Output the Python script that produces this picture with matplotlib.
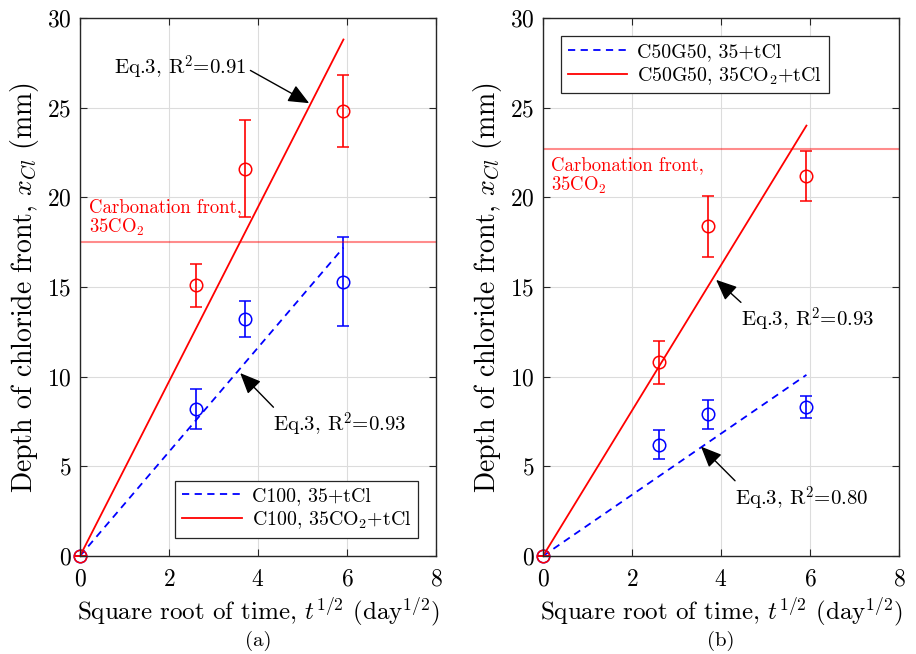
import numpy as np
import matplotlib
matplotlib.use("Agg")
import matplotlib.pyplot as plt

plt.rcParams["font.family"] = "serif"
plt.rcParams["font.serif"] = ["cmr10"]
plt.rcParams["mathtext.fontset"] = "cm"
plt.rcParams["axes.formatter.use_mathtext"] = True

# square root of time (day^1/2)
t_sqrt = [0, 2.6, 3.7, 5.9]
fit_x = [0, 5.92]

# panel (a) C100
a_blue = [0, 8.2, 13.2, 15.3]
a_blue_lo = [0, 1.1, 1.0, 2.5]
a_blue_hi = [0, 1.1, 1.0, 2.5]
a_red = [0, 15.1, 21.6, 24.8]
a_red_lo = [0, 1.2, 2.7, 2.0]
a_red_hi = [0, 1.2, 2.7, 2.0]
a_fit_blue = [0, 17.2]
a_fit_red = [0, 28.8]
a_carb = 17.5

# panel (b) C50G50
b_blue = [0, 6.2, 7.9, 8.3]
b_blue_lo = [0, 0.8, 0.8, 0.6]
b_blue_hi = [0, 0.8, 0.8, 0.6]
b_red = [0, 10.8, 18.4, 21.2]
b_red_lo = [0, 1.2, 1.7, 1.4]
b_red_hi = [0, 1.2, 1.7, 1.4]
b_fit_blue = [0, 10.1]
b_fit_red = [0, 24.0]
b_carb = 22.7

fig = plt.figure(figsize=(9.16, 6.54), dpi=100)
ax1 = fig.add_axes([80/916, 98/654, 356/916, 538/654])
ax2 = fig.add_axes([543/916, 98/654, 356/916, 538/654])


def panel(ax, blue, blo, bhi, red, rlo, rhi, fblue, fred, carb, labels, tag):
    ax.plot(fit_x, fblue, color="b", ls=(0, (4, 3)), lw=1.3, label=labels[0])
    ax.plot(fit_x, fred, color="r", lw=1.3, label=labels[1])
    for y, lo, hi, c in ((blue, blo, bhi, "b"), (red, rlo, rhi, "r")):
        eb = ax.errorbar(t_sqrt, y, yerr=[lo, hi], fmt="o", color=c, mfc="none",
                         ms=9, mew=1.1, capsize=4, elinewidth=1.2, capthick=1.2)
        eb[0].set_clip_on(False)
        for cl in eb[1]:
            cl.set_clip_on(False)
    ax.axhline(carb, color="r", alpha=0.45, lw=1.5)
    ax.set_xlim(0, 8)
    ax.set_ylim(0, 30)
    ax.set_xticks([0, 2, 4, 6, 8])
    ax.set_yticks([0, 5, 10, 15, 20, 25, 30])
    ax.grid(True, color="#dcdcdc", lw=0.8)
    ax.set_axisbelow(True)
    ax.tick_params(direction="in", top=True, right=True, labelsize=17,
                   length=5, color="#262626")
    ax.tick_params(axis="x", pad=9)
    ax.tick_params(axis="y", pad=6)
    for s in ax.spines.values():
        s.set_color("#262626")
        s.set_linewidth(1.0)
    ax.set_xlabel(r"Square root of time, $t^{1/2}$ (day$^{1/2}$)", fontsize=18,
                  labelpad=3)
    ax.set_ylabel(r"Depth of chloride front, $x_{Cl}$ (mm)", fontsize=20,
                  labelpad=4)
    ax.text(0.5, -0.14, tag, transform=ax.transAxes, ha="center", va="top",
            fontsize=15)


panel(ax1, a_blue, a_blue_lo, a_blue_hi, a_red, a_red_lo, a_red_hi,
      a_fit_blue, a_fit_red, a_carb,
      ["C100, 35+tCl", r"C100, 35CO$_2$+tCl"], "(a)")
panel(ax2, b_blue, b_blue_lo, b_blue_hi, b_red, b_red_lo, b_red_hi,
      b_fit_blue, b_fit_red, b_carb,
      ["C50G50, 35+tCl", r"C50G50, 35CO$_2$+tCl"], "(b)")

ax1.text(0.2, 17.75, "Carbonation front,\n35CO$_2$", color="r", fontsize=13.5,
         va="bottom", ha="left", linespacing=1.05)
ax2.text(0.18, 22.3, "Carbonation front,\n35CO$_2$", color="r", fontsize=13.5,
         va="top", ha="left", linespacing=1.05)

arrow = dict(arrowstyle="-|>,head_length=0.85,head_width=0.37", color="k", lw=1.0,
             shrinkA=1, shrinkB=0)
ax1.annotate("Eq.3, R$^2$=0.91", xy=(5.15, 25.25), xytext=(3.74, 27.2),
             ha="right", va="center", fontsize=15,
             arrowprops=dict(arrow, relpos=(1, 0.5)))
ax1.annotate("Eq.3, R$^2$=0.93", xy=(3.6, 10.2), xytext=(4.34, 7.3),
             ha="left", va="center", fontsize=15,
             arrowprops=dict(arrow, relpos=(0.03, 1)))
ax2.annotate("Eq.3, R$^2$=0.93", xy=(3.89, 15.4), xytext=(4.45, 13.15),
             ha="left", va="center", fontsize=15,
             arrowprops=dict(arrow, relpos=(0.03, 1)))
ax2.annotate("Eq.3, R$^2$=0.80", xy=(3.55, 6.1), xytext=(4.31, 3.2),
             ha="left", va="center", fontsize=15,
             arrowprops=dict(arrow, relpos=(0.03, 1)))

leg_kw = dict(fontsize=14.3, fancybox=False, framealpha=1, edgecolor="#262626",
              handlelength=3.0, borderaxespad=0.9, labelspacing=0.2,
              borderpad=0.35, handletextpad=0.5)
l1 = ax1.legend(loc="lower right", **leg_kw)
l2 = ax2.legend(loc="upper left", **leg_kw)
for l in (l1, l2):
    l.get_frame().set_linewidth(0.9)

fig.savefig("out.png", dpi=100)
